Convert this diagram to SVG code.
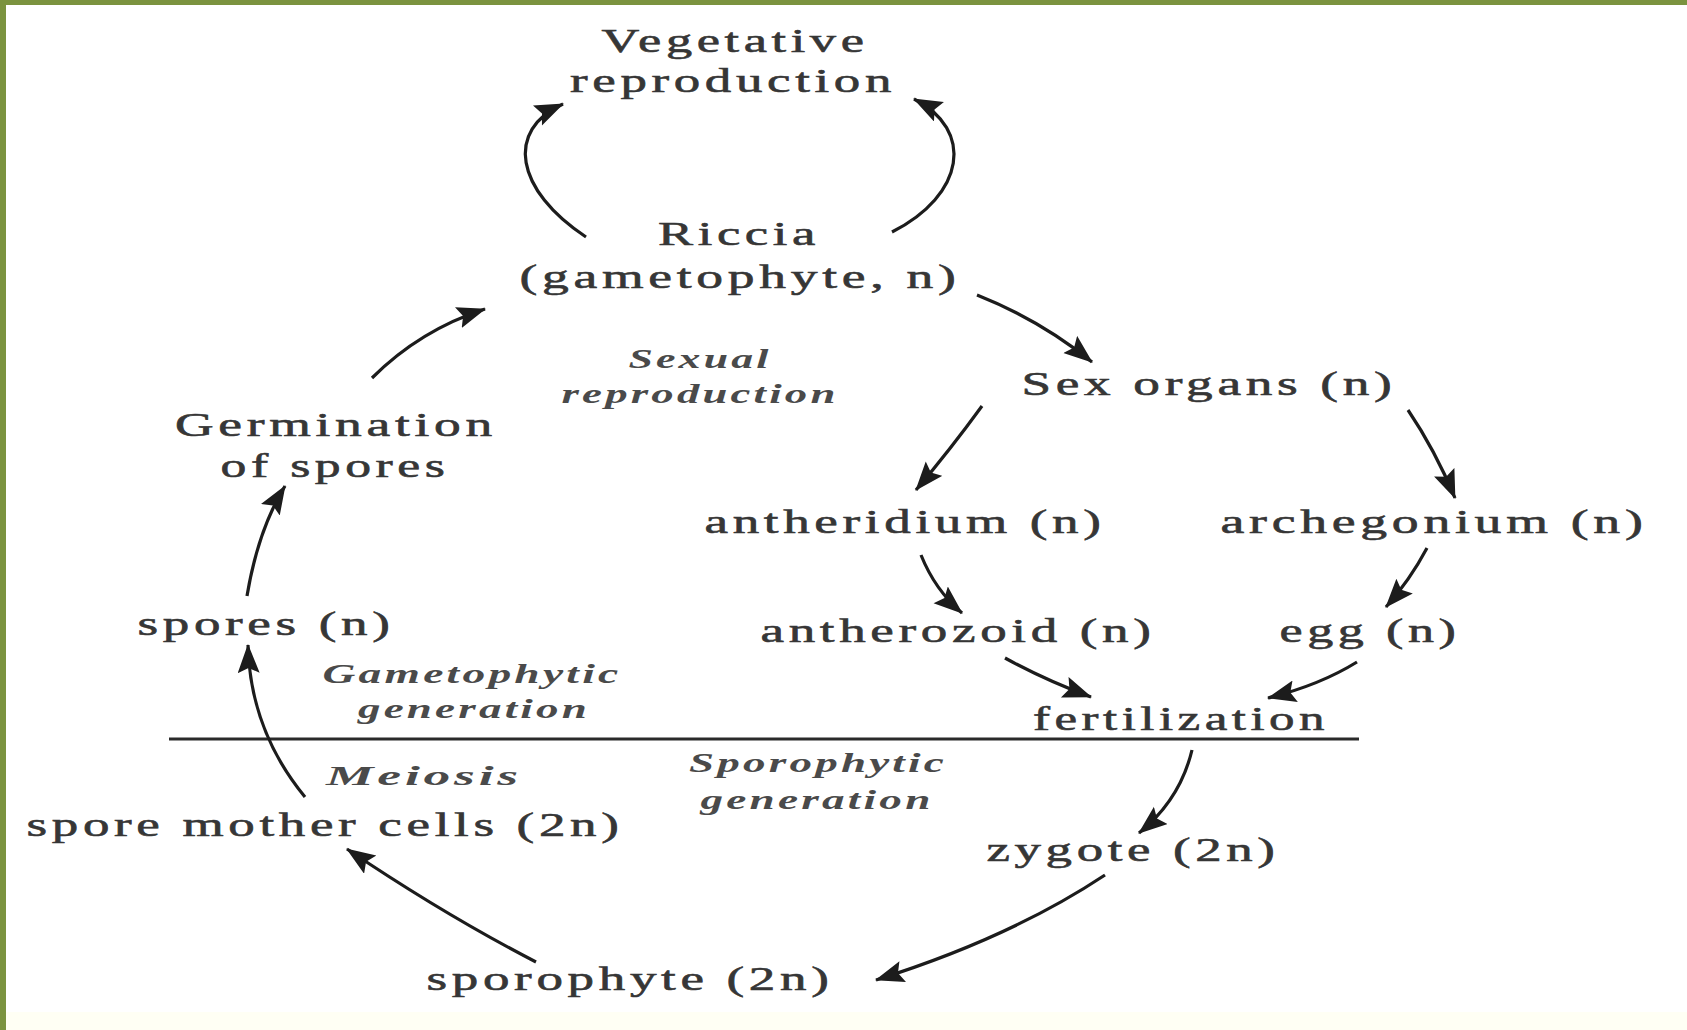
<svg xmlns="http://www.w3.org/2000/svg" width="1687" height="1030" viewBox="0 0 1687 1030">
<defs>
<marker id="ah" markerUnits="userSpaceOnUse" markerWidth="36" markerHeight="28" refX="28" refY="11" orient="auto">
<path d="M0,0 L29,11 L0,22 L5,11 z" fill="#1c1c1c"/>
</marker>
<style>
.t{font-family:"Liberation Serif","Times New Roman",serif;font-size:34px;fill:#363636;text-anchor:middle;letter-spacing:3px;stroke:#363636;stroke-width:0.6px}
.i{font-family:"Liberation Serif","Times New Roman",serif;font-size:28px;font-style:italic;font-weight:bold;fill:#4a4a4a;text-anchor:middle;letter-spacing:2px}
.c{fill:none;stroke:#1c1c1c;stroke-width:3.2;marker-end:url(#ah)}
</style>
</defs>
<rect x="0" y="0" width="1687" height="1030" fill="#ffffff"/>
<rect x="0" y="1012" width="1687" height="18" fill="#fffff4"/>
<rect x="0" y="0" width="1687" height="5" fill="#7b933f"/>
<rect x="0" y="0" width="6" height="1030" fill="#7b933f"/>
<line x1="169" y1="739" x2="1359" y2="739" stroke="#2a2a2a" stroke-width="3"/>

<g id="connectors">
<path class="c" d="M586,237 C515,190 505,130 563,104"/>
<path class="c" d="M892,232 C965,195 975,130 914,99"/>
<path class="c" d="M977,295 Q1040,320 1092,362"/>
<path class="c" d="M372,378 Q420,330 485,309"/>
<path class="c" d="M247,596 Q258,530 285,486"/>
<path class="c" d="M305,797 Q250,730 248,645"/>
<path class="c" d="M982,406 Q950,450 916,490"/>
<path class="c" d="M1408,410 Q1435,450 1455,498"/>
<path class="c" d="M921,555 Q935,590 962,613"/>
<path class="c" d="M1427,548 Q1410,580 1386,607"/>
<path class="c" d="M1005,658 Q1045,680 1091,697"/>
<path class="c" d="M1357,662 Q1320,685 1268,698"/>
<path class="c" d="M1192,750 Q1180,800 1139,833"/>
<path class="c" d="M1105,875 Q1010,938 876,980"/>
<path class="c" d="M536,962 Q445,915 347,849"/>
</g>

<g id="vegetative"><text class="t" x="735" y="52" textLength="267" lengthAdjust="spacingAndGlyphs">Vegetative</text><text class="t" x="733" y="92" textLength="326" lengthAdjust="spacingAndGlyphs">reproduction</text></g>
<g id="riccia"><text class="t" x="739" y="245" textLength="162" lengthAdjust="spacingAndGlyphs">Riccia</text><text class="t" x="740" y="288" textLength="441" lengthAdjust="spacingAndGlyphs">(gametophyte, n)</text></g>
<g id="sexual-label"><text class="i" x="700" y="368" textLength="143" lengthAdjust="spacingAndGlyphs">Sexual</text><text class="i" x="700" y="403" textLength="277" lengthAdjust="spacingAndGlyphs">reproduction</text></g>
<g id="sex-organs"><text class="t" x="1209" y="395" textLength="375" lengthAdjust="spacingAndGlyphs">Sex organs (n)</text></g>
<g id="germination"><text class="t" x="336" y="436" textLength="322" lengthAdjust="spacingAndGlyphs">Germination</text><text class="t" x="335" y="477" textLength="229" lengthAdjust="spacingAndGlyphs">of spores</text></g>
<g id="antheridium"><text class="t" x="905" y="533" textLength="401" lengthAdjust="spacingAndGlyphs">antheridium (n)</text></g>
<g id="archegonium"><text class="t" x="1434" y="533" textLength="427" lengthAdjust="spacingAndGlyphs">archegonium (n)</text></g>
<g id="spores"><text class="t" x="266" y="635" textLength="257" lengthAdjust="spacingAndGlyphs">spores (n)</text></g>
<g id="antherozoid"><text class="t" x="958" y="642" textLength="395" lengthAdjust="spacingAndGlyphs">antherozoid (n)</text></g>
<g id="egg"><text class="t" x="1370" y="642" textLength="181" lengthAdjust="spacingAndGlyphs">egg (n)</text></g>
<g id="gametophytic-label"><text class="i" x="472" y="683" textLength="299" lengthAdjust="spacingAndGlyphs">Gametophytic</text><text class="i" x="474" y="718" textLength="232" lengthAdjust="spacingAndGlyphs">generation</text></g>
<g id="fertilization"><text class="t" x="1181" y="730" textLength="296" lengthAdjust="spacingAndGlyphs">fertilization</text></g>
<g id="meiosis-label"><text class="i" x="424" y="785" textLength="196" lengthAdjust="spacingAndGlyphs">Meiosis</text></g>
<g id="sporophytic-label"><text class="i" x="818" y="772" textLength="258" lengthAdjust="spacingAndGlyphs">Sporophytic</text><text class="i" x="817" y="809" textLength="233" lengthAdjust="spacingAndGlyphs">generation</text></g>
<g id="spore-mother-cells"><text class="t" x="325" y="836" textLength="597" lengthAdjust="spacingAndGlyphs">spore mother cells (2n)</text></g>
<g id="zygote"><text class="t" x="1133" y="861" textLength="293" lengthAdjust="spacingAndGlyphs">zygote (2n)</text></g>
<g id="sporophyte"><text class="t" x="630" y="990" textLength="407" lengthAdjust="spacingAndGlyphs">sporophyte (2n)</text></g>
</svg>
